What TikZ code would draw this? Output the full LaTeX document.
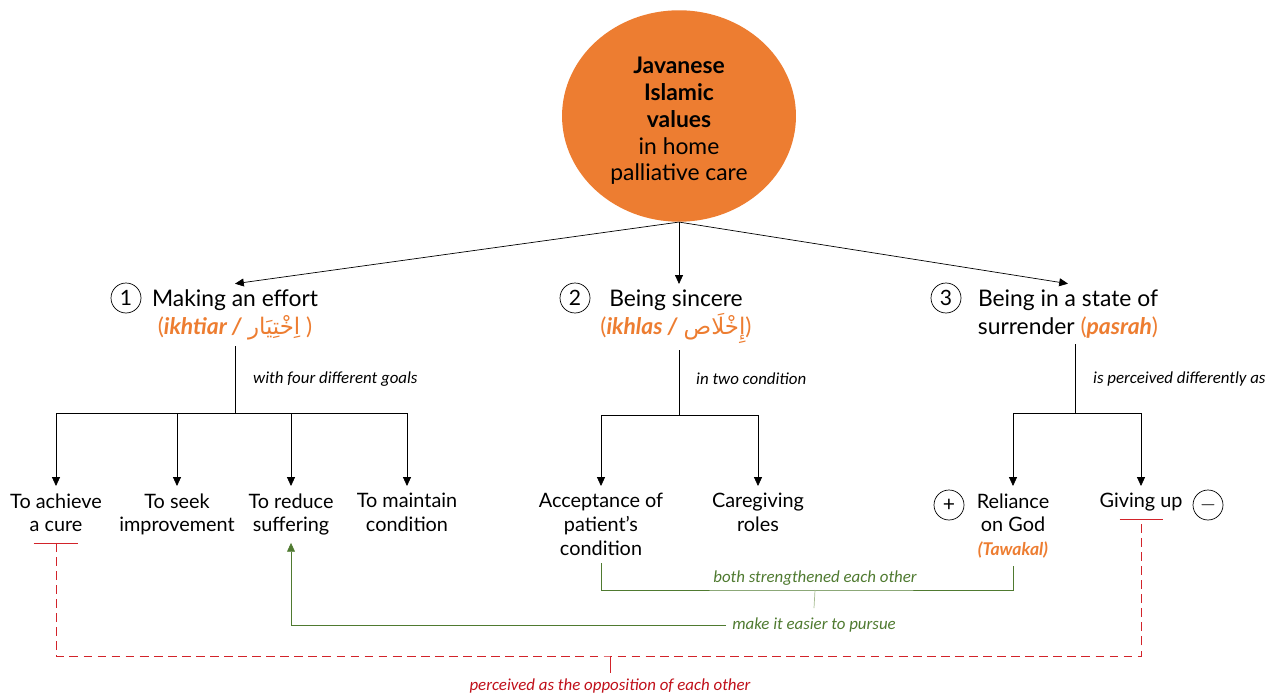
\documentclass[tikz,border=0pt]{standalone}
\usepackage{fontspec}
\setmainfont{Lato}
\newfontfamily\notefont{Carlito}
\newfontfamily\arabicfont[Script=Arabic]{DejaVu Sans}
\TeXXeTstate=1
\usetikzlibrary{positioning,calc,arrows.meta,shapes.geometric}

\definecolor{javaorange}{HTML}{ED7D31}
\definecolor{linkgreen}{HTML}{4F7A30}
\definecolor{palegreen}{HTML}{A7BC92}
\definecolor{opposered}{HTML}{D2232A}
\definecolor{notered}{HTML}{C0101A}

\newcommand{\orterm}[1]{\textcolor{javaorange}{\bfseries\itshape #1}}

\begin{document}
\begin{tikzpicture}[x=0.02cm,y=-0.02cm,
    theme/.style={font=\fontsize{13}{15.8}\selectfont, align=center},
    goal/.style={font=\fontsize{11.3}{13.6}\selectfont, align=center, anchor=north, inner sep=4pt},
    num/.style={circle, draw, thin, minimum size=0.6cm, inner sep=0pt, font=\fontsize{12}{14}\selectfont},
    note/.style={font=\notefont\itshape\fontsize{9.6}{11}\selectfont},
    tip/.style={-{Triangle[length=5pt,width=4.5pt]}},
    link/.style={draw=linkgreen, thin},
    oppose/.style={draw=opposered, thin}]
    \useasboundingbox (0,0) rectangle (1267,699);

    % central value
    \node[ellipse, fill=javaorange, minimum width=4.68cm, minimum height=4cm, align=center,
          font=\fontsize{13}{15.3}\selectfont] (core) at (679,116)
        {\rule{0pt}{15pt}\textbf{Javanese}\\ \textbf{Islamic}\\ \textbf{values}\\ in home\\ palliative care};

    % three values
    \node[theme] (effort) at (235,315)
        {Making an effort\\ \textcolor{javaorange}{(\textbf{\textit{ikhtiar /}} {\arabicfont\beginR اِخْتِيَار\endR} )}};
    \node[num] (n1) at (126,298) {1};
    \node[theme] (sincere) at (676,317)
        {Being sincere\\ \textcolor{javaorange}{(\textbf{\textit{ikhlas /}} {\arabicfont\beginR إِخْلَاص\endR})}};
    \node[num] (n2) at (575,298) {2};
    \node[theme] (surrender) at (1068,314)
        {Being in a state of\\ surrender \textcolor{javaorange}{(\textbf{\textit{pasrah}})}};
    \node[num] (n3) at (946,298) {3};

    \draw[tip] (core.south) -- (effort.north);
    \draw[tip] (core.south) -- (sincere.north -| core.south);
    \draw[tip] (core.south) -- (surrender.north);

    % goals of effort
    \node[goal] (cure) at (56,486) {To achieve\\ a cure};
    \node[goal] (improve) at (177,486) {To seek\\ improvement};
    \node[goal] (reduce) at (291,486) {To reduce\\ suffering};
    \node[goal] (maintain) at (407,486) {To maintain\\ condition};
    \coordinate (bar1) at (235,413);
    \draw (effort.south) -- (bar1);
    \draw (cure |- bar1) -- (maintain |- bar1);
    \foreach \g in {cure,improve,reduce,maintain}
        \draw[tip] (\g |- bar1) -- (\g.north);
    \node[note, anchor=west] (four) at (247,379) {with four different goals};

    % conditions of sincerity
    \node[goal] (accept) at (601,486) {Acceptance of\\ patient's\\ condition};
    \node[goal] (roles) at (758,486) {Caregiving\\ roles};
    \coordinate (bar2) at (679,415);
    \draw (sincere.south -| bar2) -- (bar2);
    \draw (accept |- bar2) -- (roles |- bar2);
    \foreach \g in {accept,roles}
        \draw[tip] (\g |- bar2) -- (\g.north);
    \node[note, anchor=west] (two) at (690,379) {in two condition};

    % perceptions of surrender
    \node[goal] (reliance) at (1013,486) {Reliance\\ on God\\ \orterm{\fontsize{10}{12}\selectfont(Tawakal)}};
    \node[goal] (giveup) at (1141,486) {Giving up};
    \node[num] (plus) at (949,505) {+};
    \node[num] (minus) at (1208,505) {$-$};
    \coordinate (bar3) at (1075,413);
    \draw (surrender.south -| bar3) -- (bar3);
    \draw (reliance |- bar3) -- (giveup |- bar3);
    \foreach \g in {reliance,giveup}
        \draw[tip] (\g |- bar3) -- (\g.north);
    \node[note, anchor=west] (differ) at (1087,379) {is perceived differently as};

    % strengthening and support
    \coordinate (both) at (815,590);
    \draw[link] (accept.south) |- (both) -| (reliance.south);
    \node[note, text=linkgreen] (strength) at (815,578) {both strengthened each other};
    \node[note, text=linkgreen] (easier) at (814,625) {make it easier to pursue};
    \draw[draw=palegreen] (both) -- ([yshift=2pt]easier.north);
    \draw[link, tip] (easier.west) -| (reduce.south);

    % opposition
    \coordinate (opp) at (610,656);
    \draw[oppose] ([xshift=-0.45cm,yshift=-2pt]cure.south) -- ([xshift=0.45cm,yshift=-2pt]cure.south);
    \draw[oppose] ([xshift=-0.43cm]giveup.south) -- ([xshift=0.43cm]giveup.south);
    \draw[oppose, dashed, dash pattern=on 5pt off 3pt] ([yshift=-2pt]cure.south) |- (opp) -| (giveup.south);
    \node[note, text=notered, anchor=north] (opposite) at (610,673) {perceived as the opposition of each other};
    \draw[oppose] (opp) -- (opposite.north);
\end{tikzpicture}
\end{document}
